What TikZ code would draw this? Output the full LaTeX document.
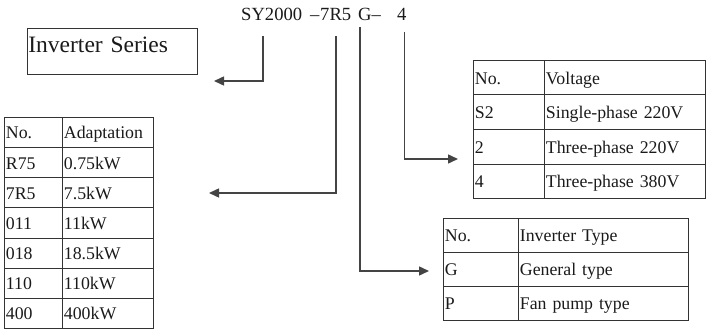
\documentclass[tikz,border=0pt]{standalone}
\usepackage{fontspec}
\setmainfont{Liberation Serif}
\usetikzlibrary{arrows.meta}
\definecolor{linec}{HTML}{444444}
\definecolor{tablec}{HTML}{333333}
\definecolor{textc}{HTML}{1A1A1A}
\newcommand{\tabfont}{\fontsize{17.8}{20}\selectfont}
\newcommand{\titlefont}{\fontsize{18.6}{20}\selectfont}
\newcommand{\seriesfont}{\fontsize{23.5}{26}\selectfont}
\tikzset{
  cellbase/.style={draw=tablec, line width=0.8pt, rectangle, anchor=north west,
    inner xsep=1.5pt, inner ysep=0pt, text height=13pt, text depth=0pt,
    align=left, font=\tabfont, text=textc},
  acolA/.style={cellbase, text width=55pt, minimum height=30.14pt},
  acolB/.style={cellbase, text width=88pt, minimum height=30.14pt},
  vcolA/.style={cellbase, text width=68pt, minimum height=34.5pt},
  vcolB/.style={cellbase, text width=158pt, minimum height=34.5pt},
  tcolA/.style={cellbase, text width=72pt, minimum height=34pt},
  tcolB/.style={cellbase, text width=167pt, minimum height=34pt},
  titlepart/.style={anchor=base west, inner sep=0pt, font=\titlefont, text=textc},
  conn/.style={draw=linec, line width=1.5pt, -{Triangle[length=10pt,width=9pt]}},
}
\begin{document}
\begin{tikzpicture}[x=1pt,y=-1pt]
\useasboundingbox (0,0) rectangle (708,331);

% title code
\node[titlepart] (t1) at (241,21) {SY2000};
\node[titlepart] (t2) at (310,21) {–};
\node[titlepart] (t2b) at (320,21) {7R5};
\node[titlepart] (t3) at (358,21) {G–};
\node[titlepart] (t4) at (397,21) {4};

% inverter series box
\node[draw=tablec, line width=0.8pt, anchor=north west, inner xsep=1pt, inner ysep=0pt,
      text width=168pt, text height=24pt, text depth=22pt, align=left,
      font=\seriesfont, text=textc] (series) at (27,28) {Inverter Series};

% adaptation table
\node[acolA] (a0a) at (4,117) {No.};
\node[acolB] (a0b) at (62,117) {Adaptation};
\node[acolA] (a1a) at (4,147.14) {R75};
\node[acolB] (a1b) at (62,147.14) {0.75kW};
\node[acolA] (a2a) at (4,177.28) {7R5};
\node[acolB] (a2b) at (62,177.28) {7.5kW};
\node[acolA] (a3a) at (4,207.42) {011};
\node[acolB] (a3b) at (62,207.42) {11kW};
\node[acolA] (a4a) at (4,237.56) {018};
\node[acolB] (a4b) at (62,237.56) {18.5kW};
\node[acolA] (a5a) at (4,267.70) {110};
\node[acolB] (a5b) at (62,267.70) {110kW};
\node[acolA] (a6a) at (4,297.84) {400};
\node[acolB] (a6b) at (62,297.84) {400kW};

% voltage table
\node[vcolA] (v0a) at (473,60) {No.};
\node[vcolB] (v0b) at (544,60) {Voltage};
\node[vcolA] (v1a) at (473,94.5) {S2};
\node[vcolB] (v1b) at (544,94.5) {Single-phase 220V};
\node[vcolA] (v2a) at (473,129) {2};
\node[vcolB] (v2b) at (544,129) {Three-phase 220V};
\node[vcolA] (v3a) at (473,163.5) {4};
\node[vcolB] (v3b) at (544,163.5) {Three-phase 380V};

% inverter type table
\node[tcolA] (g0a) at (443,218) {No.};
\node[tcolB] (g0b) at (518,218) {Inverter Type};
\node[tcolA] (g1a) at (443,252) {G};
\node[tcolB] (g1b) at (518,252) {General type};
\node[tcolA] (g2a) at (443,286) {P};
\node[tcolB] (g2b) at (518,286) {Fan pump type};

% connectors
\coordinate (s1) at (263,36);
\coordinate (e1) at (214,81);
\coordinate (s2) at (336,36);
\coordinate (e2) at (209,193);
\coordinate (s3) at (360,27);
\coordinate (e3) at (429,271);
\coordinate (s4) at (404.5,32);
\coordinate (e4) at (458,159);
\draw[conn] (s1) |- (e1);
\draw[conn] (s2) |- (e2);
\draw[conn] (s3) |- (e3);
\draw[conn] (s4) |- (e4);
\end{tikzpicture}
\end{document}
